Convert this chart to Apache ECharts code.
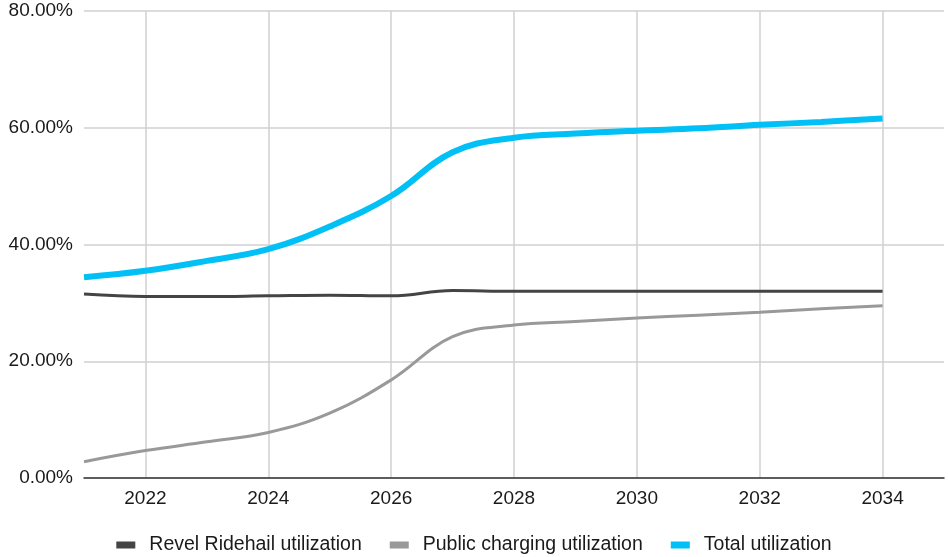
<!DOCTYPE html>
<html>
<head>
<meta charset="utf-8">
<script src="https://cdn.jsdelivr.net/npm/echarts@6/dist/echarts.min.js"></script>
<style>html,body{margin:0;padding:0;background:#fff}#c{width:948px;height:557px}</style>
</head>
<body>
<div id="c"></div>
<script>
const years = [2021,2022,2023,2024,2025,2026,2027,2028,2029,2030,2031,2032,2033,2034];
const revel = [31.5,31.1,31.1,31.2,31.3,31.2,32.1,32.0,32.0,32.0,32.0,32.0,32.0,32.0];
const publicCharging = [2.8,4.7,6.2,7.8,11.1,16.8,24.2,26.2,26.8,27.4,27.9,28.4,29.0,29.5];
const total = [34.4,35.5,37.2,39.2,43.1,48.3,55.8,58.3,59.0,59.5,59.9,60.5,61.0,61.6];
const xTicks = [2022,2024,2026,2028,2030,2032,2034];
const seriesNames = ['Revel Ridehail utilization','Public charging utilization','Total utilization'];

const chart = echarts.init(document.getElementById('c'));
const font = 'Liberation Sans, Arial, sans-serif';
function pts(arr){ return years.map((y,i)=>[y,arr[i]]); }
chart.setOption({
  animation:false,
  grid:{left:84,right:4,top:11,bottom:79},
  legend:{
    data:seriesNames,
    top:530,
    left:'center',
    icon:'rect',
    itemWidth:19,
    itemHeight:7,
    itemGap:28,
    textStyle:{fontFamily:font,fontSize:19.5,color:'#1a1a1a',padding:[0,0,0,9]}
  },
  xAxis:{
    type:'value',min:2021,max:2035,
    axisLine:{show:true,lineStyle:{color:'#333',width:1.5}},
    axisTick:{show:false,customValues:xTicks},
    axisLabel:{customValues:xTicks,fontFamily:font,fontSize:19,color:'#1a1a1a',margin:11,formatter:v=>String(v)},
    splitLine:{show:true,lineStyle:{color:'#d0d0d0',width:1.5}}
  },
  yAxis:{
    type:'value',min:0,max:80,interval:20,
    axisLine:{show:false},axisTick:{show:false},
    axisLabel:{fontFamily:font,fontSize:19,color:'#1a1a1a',margin:11,formatter:v=>v.toFixed(2)+'%'},
    splitLine:{lineStyle:{color:'#d0d0d0',width:1.5}}
  },
  series:[
    {name:seriesNames[0],type:'line',smooth:0.4,symbol:'none',data:pts(revel),lineStyle:{color:'#444444',width:3},itemStyle:{color:'#444444'}},
    {name:seriesNames[1],type:'line',smooth:0.4,symbol:'none',data:pts(publicCharging),lineStyle:{color:'#999999',width:3},itemStyle:{color:'#999999'}},
    {name:seriesNames[2],type:'line',smooth:0.4,symbol:'none',data:pts(total),lineStyle:{color:'#00c0f5',width:6},itemStyle:{color:'#00c0f5'}}
  ]
});
</script>
</body>
</html>
